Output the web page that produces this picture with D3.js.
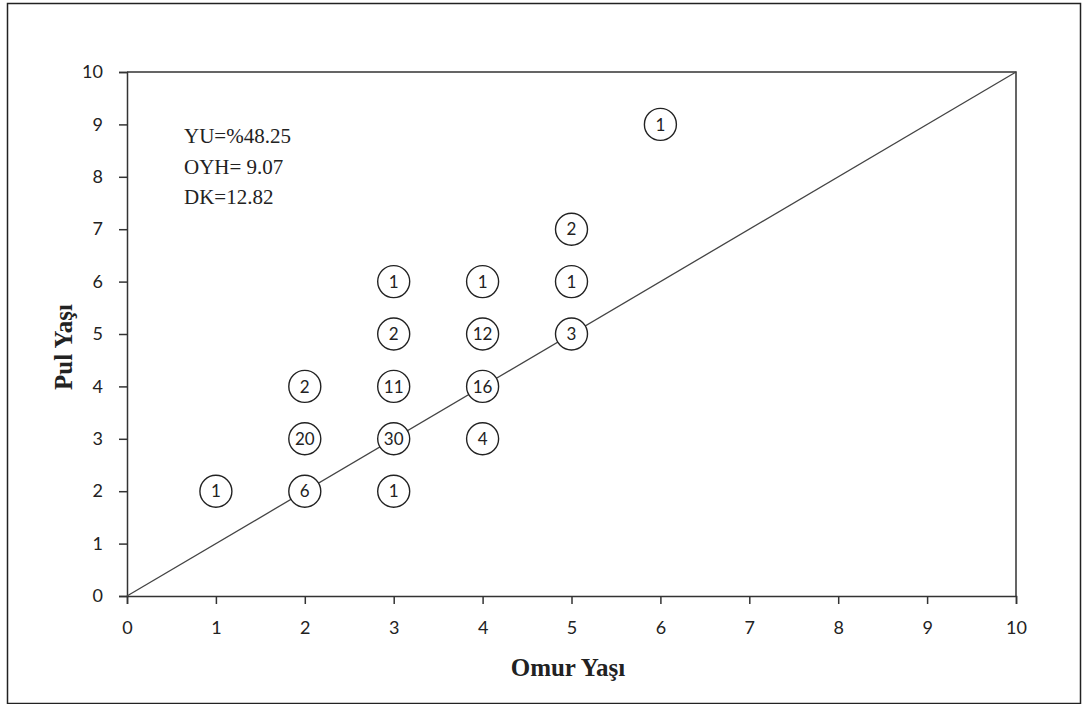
<!DOCTYPE html>
<html>
<head>
<meta charset="utf-8">
<script src="https://cdn.jsdelivr.net/npm/d3@7"></script>
<style>
  body { margin: 0; background: #fff; }
  svg { display: block; }
</style>
</head>
<body>
<div id="chart"></div>
<script>
// Data
const omurYasi = [1, 2, 2, 2, 3, 3, 3, 3, 3, 4, 4, 4, 4, 5, 5, 5, 6];
const pulYasi  = [2, 2, 3, 4, 2, 3, 4, 5, 6, 3, 4, 5, 6, 5, 6, 7, 9];
const counts   = [1, 6, 20, 2, 1, 30, 11, 2, 1, 4, 16, 12, 1, 3, 1, 2, 1];
const tickValues = [0, 1, 2, 3, 4, 5, 6, 7, 8, 9, 10];
const statLines = ["YU=%48.25", "OYH= 9.07", "DK=12.82"];

const width = 1083, height = 704;
const plot = { left: 127, top: 72, right: 1016, bottom: 596 };

const svg = d3.select("#chart").append("svg")
    .attr("width", width)
    .attr("height", height);

// Outer chart frame
svg.append("rect")
    .attr("x", 7.5).attr("y", 3.5)
    .attr("width", 1073).attr("height", 700)
    .attr("fill", "none").attr("stroke", "#222").attr("stroke-width", 1.5);

const x = d3.scaleLinear().domain([0, 10]).range([plot.left, plot.right]);
const y = d3.scaleLinear().domain([0, 10]).range([plot.bottom, plot.top]);

// Plot area top and right borders
svg.append("path")
    .attr("d", `M${plot.left},${plot.top}H${plot.right}V${plot.bottom}`)
    .attr("fill", "none").attr("stroke", "#333").attr("stroke-width", 1.5);

const tickFont = "Lato, 'Open Sans', sans-serif";
const serif = "'Liberation Serif', 'Times New Roman', serif";

const xAxis = svg.append("g")
    .attr("transform", `translate(0,${plot.bottom})`)
    .call(d3.axisBottom(x).tickValues(tickValues).tickSize(8).tickPadding(17).tickFormat(d3.format("d")));

const yAxis = svg.append("g")
    .attr("transform", `translate(${plot.left},0)`)
    .call(d3.axisLeft(y).tickValues(tickValues).tickSize(8).tickPadding(16).tickFormat(d3.format("d")));

[xAxis, yAxis].forEach(ax => {
    ax.select(".domain").attr("stroke", "#333").attr("stroke-width", 1.5);
    ax.selectAll(".tick line").attr("stroke", "#333").attr("stroke-width", 1.5);
    ax.selectAll("text")
        .attr("fill", "#222")
        .style("font-family", tickFont)
        .style("font-size", "18px");
});

// 1:1 line
svg.append("line")
    .attr("x1", x(0)).attr("y1", y(0))
    .attr("x2", x(10)).attr("y2", y(10))
    .attr("stroke", "#444").attr("stroke-width", 1.3);

// Count bubbles
const pts = counts.map((n, i) => ({ x: omurYasi[i], y: pulYasi[i], n }));
const bubble = svg.append("g").selectAll("g")
    .data(pts)
    .enter().append("g")
    .attr("transform", d => `translate(${x(d.x)},${y(d.y)})`);

bubble.append("circle")
    .attr("r", 16)
    .attr("fill", "#fff")
    .attr("stroke", "#222")
    .attr("stroke-width", 1.4);

bubble.append("text")
    .attr("text-anchor", "middle")
    .attr("dy", "0.36em")
    .style("font-family", tickFont)
    .style("font-size", "17px")
    .attr("fill", "#222")
    .text(d => d.n);

// Stats annotation
svg.append("g").selectAll("text")
    .data(statLines)
    .enter().append("text")
    .attr("x", 184)
    .attr("y", (d, i) => 143 + i * 30.5)
    .style("font-family", serif)
    .style("font-size", "21px")
    .attr("fill", "#222")
    .text(d => d);

// Axis titles
svg.append("text")
    .attr("x", 568)
    .attr("y", 676)
    .attr("text-anchor", "middle")
    .style("font-family", serif)
    .style("font-size", "25px")
    .style("font-weight", "bold")
    .attr("fill", "#222")
    .text("Omur Yaşı");

svg.append("text")
    .attr("transform", "translate(72,347) rotate(-90)")
    .attr("text-anchor", "middle")
    .style("font-family", serif)
    .style("font-size", "25px")
    .style("font-weight", "bold")
    .attr("fill", "#222")
    .text("Pul Yaşı");
</script>
</body>
</html>
